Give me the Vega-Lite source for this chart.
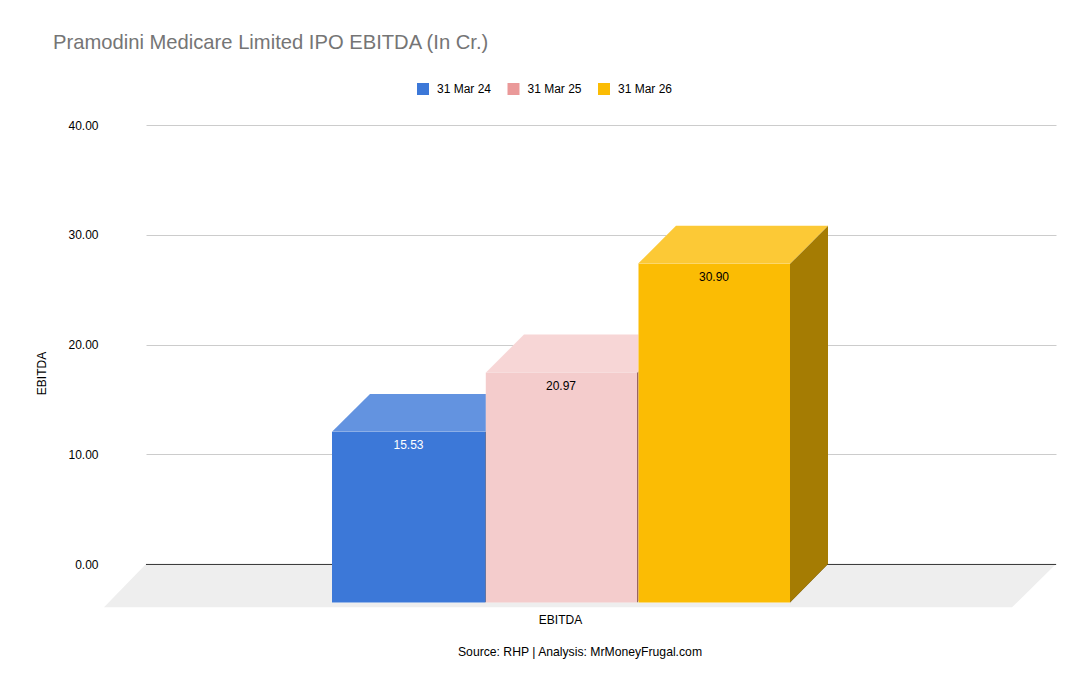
{
  "$schema": "https://vega.github.io/schema/vega-lite/v6.json",
  "description": "Pramodini Medicare Limited IPO EBITDA, drawn as a 3D column chart like the spreadsheet original.",
  "autosize": "none",
  "width": 910,
  "height": 439,
  "padding": {"left": 146, "top": 125, "right": 34, "bottom": 130},
  "background": "white",
  "title": {
    "text": "Pramodini Medicare Limited IPO EBITDA (In Cr.)",
    "anchor": "start",
    "frame": "group",
    "dx": -93,
    "offset": 30,
    "font": "Liberation Sans",
    "fontSize": 20.2,
    "fontWeight": "normal",
    "color": "#757575"
  },
  "datasets": {
    "floor": [
      {"x": -42, "y": -3.95, "y2": -3.95},
      {"x": 0, "y": 0, "y2": -3.95},
      {"x": 866, "y": 0, "y2": -3.95},
      {"x": 910, "y": 0, "y2": 0}
    ],
    "zero": [{"y": -0.04}],
    "bars": [
      {"period": "31 Mar 24", "value": 15.53, "front": 12.05, "base": -3.5, "x0": 186, "x1": 339, "mid": 262.5},
      {"period": "31 Mar 25", "value": 20.97, "front": 17.45, "base": -3.5, "x0": 339.8, "x1": 491, "mid": 415},
      {"period": "31 Mar 26", "value": 30.9, "front": 27.35, "base": -3.5, "x0": 492.5, "x1": 644, "mid": 568}
    ],
    "tops": [
      {"period": "31 Mar 24", "x": 186, "y": 12.05, "y2": 12.05},
      {"period": "31 Mar 24", "x": 224, "y": 15.48, "y2": 12.05},
      {"period": "31 Mar 24", "x": 339.5, "y": 15.48, "y2": 12.05},
      {"period": "31 Mar 24", "x": 377.5, "y": 15.48, "y2": 15.48},
      {"period": "31 Mar 25", "x": 340, "y": 17.45, "y2": 17.45},
      {"period": "31 Mar 25", "x": 378, "y": 20.9, "y2": 17.45},
      {"period": "31 Mar 25", "x": 491.5, "y": 20.9, "y2": 17.45},
      {"period": "31 Mar 25", "x": 529.5, "y": 20.9, "y2": 20.9},
      {"period": "31 Mar 26", "x": 492, "y": 27.35, "y2": 27.35},
      {"period": "31 Mar 26", "x": 530, "y": 30.82, "y2": 27.35},
      {"period": "31 Mar 26", "x": 644, "y": 30.82, "y2": 27.35},
      {"period": "31 Mar 26", "x": 682, "y": 30.82, "y2": 30.82}
    ],
    "sides": [
      {"period": "31 Mar 24", "x": 339, "y": 12.05, "y2": -3.5},
      {"period": "31 Mar 24", "x": 377, "y": 15.48, "y2": 0},
      {"period": "31 Mar 25", "x": 491, "y": 17.45, "y2": -3.5},
      {"period": "31 Mar 25", "x": 529, "y": 20.9, "y2": 0},
      {"period": "31 Mar 26", "x": 644, "y": 27.35, "y2": -3.5},
      {"period": "31 Mar 26", "x": 682, "y": 30.82, "y2": 0}
    ]
  },
  "encoding": {
    "x": {
      "type": "quantitative",
      "scale": {"domain": [0, 910], "nice": false, "zero": false},
      "axis": {
        "values": [414],
        "labelExpr": "'EBITDA'",
        "grid": false,
        "domain": false,
        "ticks": false,
        "labelPadding": 50,
        "labelFont": "Liberation Sans",
        "labelFontSize": 12,
        "labelColor": "#000000",
        "title": "Source: RHP | Analysis: MrMoneyFrugal.com",
        "titleFont": "Liberation Sans",
        "titleFontSize": 12.2,
        "titleFontWeight": "normal",
        "titleColor": "#000000",
        "titleX": 433.5,
        "titleY": 81
      }
    }
  },
  "layer": [
    {
      "data": {"name": "floor"},
      "mark": {"type": "area", "color": "#eeeeee"},
      "encoding": {
        "x": {"field": "x", "type": "quantitative"},
        "y": {
          "field": "y",
          "type": "quantitative",
          "stack": null,
          "scale": {"domain": [0, 40], "nice": false, "zero": false},
          "axis": {
            "values": [0, 10, 20, 30, 40],
            "format": ".2f",
            "grid": true,
            "gridColor": "#cccccc",
            "domain": false,
            "ticks": false,
            "labelPadding": 48,
            "labelFont": "Liberation Sans",
            "labelFontSize": 12,
            "labelColor": "#000000",
            "title": "EBITDA",
            "titleFont": "Liberation Sans",
            "titleFontSize": 12,
            "titleFontWeight": "normal",
            "titleColor": "#000000",
            "titleX": -98,
            "titleY": 248
          }
        },
        "y2": {"field": "y2"}
      }
    },
    {
      "data": {"name": "zero"},
      "mark": {"type": "rule", "color": "#333333", "strokeWidth": 1},
      "encoding": {"y": {"field": "y", "type": "quantitative"}}
    },
    {
      "data": {"name": "sides"},
      "mark": {"type": "area", "color": "#000000"},
      "encoding": {
        "x": {"field": "x", "type": "quantitative"},
        "y": {"field": "y", "type": "quantitative", "stack": null},
        "y2": {"field": "y2"},
        "detail": {"field": "period"}
      }
    },
    {
      "data": {"name": "sides"},
      "mark": {"type": "area", "fillOpacity": 0.66},
      "encoding": {
        "x": {"field": "x", "type": "quantitative"},
        "y": {"field": "y", "type": "quantitative", "stack": null},
        "y2": {"field": "y2"},
        "color": {"field": "period", "type": "nominal"}
      }
    },
    {
      "data": {"name": "tops"},
      "mark": {"type": "area", "color": "#ffffff"},
      "encoding": {
        "x": {"field": "x", "type": "quantitative"},
        "y": {"field": "y", "type": "quantitative", "stack": null},
        "y2": {"field": "y2"},
        "detail": {"field": "period"}
      }
    },
    {
      "data": {"name": "tops"},
      "mark": {"type": "area"},
      "encoding": {
        "x": {"field": "x", "type": "quantitative"},
        "y": {"field": "y", "type": "quantitative", "stack": null},
        "y2": {"field": "y2"},
        "color": {"field": "period", "type": "nominal"},
        "fillOpacity": {
          "condition": {"test": "datum.period === '31 Mar 25'", "value": 0.4},
          "value": 0.8
        }
      }
    },
    {
      "data": {"name": "bars"},
      "mark": {"type": "rect", "color": "#ffffff"},
      "encoding": {
        "x": {"field": "x0", "type": "quantitative"},
        "x2": {"field": "x1"},
        "y": {"field": "front", "type": "quantitative"},
        "y2": {"field": "base"}
      }
    },
    {
      "data": {"name": "bars"},
      "mark": {"type": "rect"},
      "encoding": {
        "x": {"field": "x0", "type": "quantitative"},
        "x2": {"field": "x1"},
        "y": {"field": "front", "type": "quantitative"},
        "y2": {"field": "base"},
        "color": {
          "field": "period",
          "type": "nominal",
          "scale": {
            "domain": ["31 Mar 24", "31 Mar 25", "31 Mar 26"],
            "range": ["#3c78d8", "#ea9999", "#fbbc04"]
          },
          "legend": {
            "title": null,
            "orient": "none",
            "direction": "horizontal",
            "legendX": 271,
            "legendY": -42,
            "symbolType": "square",
            "symbolSize": 144,
            "symbolOpacity": 1,
            "symbolStrokeWidth": 0,
            "labelFont": "Liberation Sans",
            "labelFontSize": 12,
            "labelColor": "#000000",
            "labelOffset": 8,
            "columnPadding": 15.5
          }
        },
        "fillOpacity": {
          "condition": {"test": "datum.period === '31 Mar 25'", "value": 0.5},
          "value": 1
        }
      }
    },
    {
      "data": {"name": "bars"},
      "mark": {"type": "text", "font": "Liberation Sans", "fontSize": 12, "dy": 13.5},
      "encoding": {
        "x": {"field": "mid", "type": "quantitative"},
        "y": {"field": "front", "type": "quantitative"},
        "text": {"field": "value", "type": "quantitative", "format": ".2f"},
        "color": {
          "condition": {"test": "datum.period === '31 Mar 24'", "value": "#ffffff"},
          "value": "#000000"
        }
      }
    }
  ],
  "config": {"view": {"stroke": null}}
}
